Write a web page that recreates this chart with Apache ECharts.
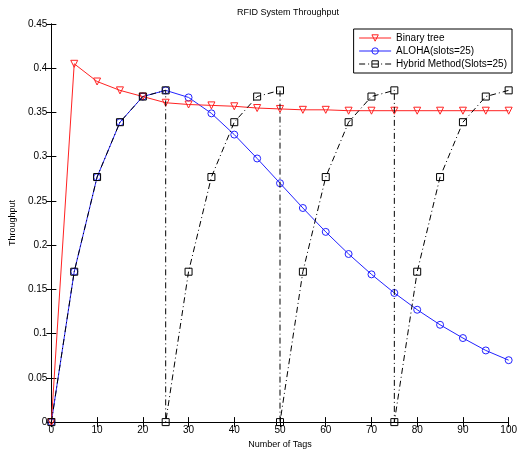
<!DOCTYPE html>
<html>
<head>
<meta charset="utf-8">
<script src="https://cdn.jsdelivr.net/npm/echarts@6/dist/echarts.min.js"></script>
<style>
	html, body { margin: 0; padding: 0; background: #fff; }
	#chart { width: 520px; height: 454px; }
</style>
</head>
<body>
<div id="chart"></div>
<script>
// number of tags, shared by the first two curves
var tags = [0, 5, 10, 15, 20, 25, 30, 35, 40, 45, 50, 55, 60, 65, 70, 75, 80, 85, 90, 95, 100];
var binaryTree = [0, 0.405, 0.385, 0.375, 0.368, 0.361, 0.359, 0.358, 0.357, 0.355, 0.354, 0.353, 0.353, 0.352, 0.352, 0.352, 0.352, 0.352, 0.352, 0.352, 0.352];
var aloha = [0, 0.170, 0.277, 0.339, 0.368, 0.375, 0.367, 0.349, 0.325, 0.298, 0.270, 0.242, 0.215, 0.190, 0.167, 0.146, 0.127, 0.110, 0.095, 0.081, 0.070];
// hybrid method restarts at 25, 50, 75
var hybridX = [0, 5, 10, 15, 20, 25, 25, 30, 35, 40, 45, 50, 50, 55, 60, 65, 70, 75, 75, 80, 85, 90, 95, 100];
var hybridY = [0, 0.170, 0.277, 0.339, 0.368, 0.375, 0, 0.170, 0.277, 0.339, 0.368, 0.375, 0, 0.170, 0.277, 0.339, 0.368, 0.375, 0, 0.170, 0.277, 0.339, 0.368, 0.375];
var yTicks = [0, 0.05, 0.1, 0.15, 0.2, 0.25, 0.3, 0.35, 0.4, 0.45];

function pairs(xs, ys)
{
	return xs.map(function (x, i) { return [x, ys[i]]; });
}

var chart = echarts.init(document.getElementById('chart'));
var font = 'Liberation Sans, Arial, sans-serif';
var axisLine = { show: true, lineStyle: { color: '#000', width: 1 } };
var tick = { show: true, inside: true, length: 5, lineStyle: { color: '#000' } };

var option = {
	animation: false,
	backgroundColor: '#fff',
	textStyle: { fontFamily: font },
	title: {
		text: 'RFID System Throughput',
		left: 283, top: 3, textAlign: 'center',
		textStyle: { fontSize: 9, fontWeight: 'normal', color: '#000', fontFamily: font }
	},
	legend: {
		right: 8, top: 29,
		orient: 'vertical',
		itemGap: 3,
		itemWidth: 32, itemHeight: 8,
		padding: [4, 5, 4, 5],
		backgroundColor: '#fff',
		borderColor: '#000', borderWidth: 1, borderRadius: 0,
		itemStyle: { borderWidth: 1 },
		lineStyle: { width: 1 },
		textStyle: { fontSize: 10, color: '#000', fontFamily: font },
		data: ['Binary tree', 'ALOHA(slots=25)', 'Hybrid Method(Slots=25)']
	},
	grid: { left: 46, right: 6, top: 24, bottom: 30 },
	xAxis: [
		{
			type: 'value', min: 0, max: 100, interval: 10,
			name: 'Number of Tags', nameLocation: 'middle', nameGap: 16,
			nameTextStyle: { fontSize: 9, color: '#000' },
			axisLine: axisLine, axisTick: tick,
			axisLabel: { fontSize: 10, color: '#000', margin: 3 },
			splitLine: { show: false }
		},
		{
			type: 'value', min: 0, max: 100, interval: 10, position: 'top',
			axisLine: axisLine, axisTick: tick,
			axisLabel: { show: false }, splitLine: { show: false }
		}
	],
	yAxis: [
		{
			type: 'value', min: 0, max: 0.45, interval: 0.05,
			name: 'Throughput', nameLocation: 'middle', nameGap: 32,
			nameTextStyle: { fontSize: 9, color: '#000' },
			axisLine: axisLine, axisTick: tick,
			axisLabel: {
				fontSize: 10, color: '#000', margin: 4,
				formatter: function (v)
				{
					var t = yTicks.find(function (k) { return Math.abs(k - v) < 1e-9; });
					return t === undefined ? '' : String(t);
				}
			},
			splitLine: { show: false }
		},
		{
			type: 'value', min: 0, max: 0.45, interval: 0.05, position: 'right',
			axisLine: axisLine, axisTick: tick,
			axisLabel: { show: false }, splitLine: { show: false }
		}
	],
	series: [
		{
			name: 'Binary tree', type: 'line',
			data: pairs(tags, binaryTree),
			symbol: 'triangle', symbolRotate: 180, symbolSize: 7,
			showAllSymbol: true,
			itemStyle: { color: 'rgba(255,255,255,0)', borderColor: '#f22', borderWidth: 1 },
			lineStyle: { color: '#f22', width: 1 },
			z: 3
		},
		{
			name: 'ALOHA(slots=25)', type: 'line',
			data: pairs(tags, aloha),
			symbol: 'circle', symbolSize: 7,
			showAllSymbol: true,
			itemStyle: { color: 'rgba(255,255,255,0)', borderColor: '#22f', borderWidth: 1 },
			lineStyle: { color: '#22f', width: 1 },
			z: 2
		},
		{
			name: 'Hybrid Method(Slots=25)', type: 'line',
			data: pairs(hybridX, hybridY),
			symbol: 'rect', symbolSize: 7,
			showAllSymbol: true,
			itemStyle: { color: 'rgba(255,255,255,0)', borderColor: '#000', borderWidth: 1 },
			lineStyle: { color: '#000', width: 1, type: [6, 3, 1, 3] },
			z: 4
		}
	]
};

chart.setOption(option);
</script>
</body>
</html>
